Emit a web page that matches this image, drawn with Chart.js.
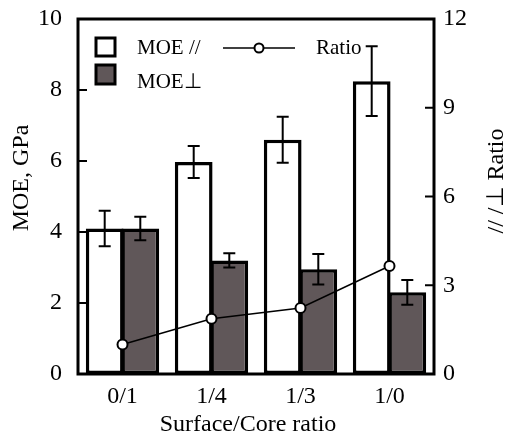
<!DOCTYPE html>
<html>
<head>
<meta charset="utf-8">
<script src="https://cdn.jsdelivr.net/npm/chart.js@4.4.0/dist/chart.umd.min.js"></script>
<style>
    html, body { margin: 0; padding: 0; background: #fff; }
</style>
</head>
<body>
<canvas id="moeChart" width="509" height="440"></canvas>
<script>
// surface/core layer ratio vs. MOE in both directions
const ratioLabels = ['0/1', '1/4', '1/3', '1/0'];
const moeParallel = [4.1, 5.97, 6.6, 8.25];
const moeParallelErr = [0.5, 0.45, 0.65, 0.98];
const moePerp = [4.1, 3.2, 2.95, 2.3];
const moePerpErr = [0.33, 0.2, 0.43, 0.35];
const anisoRatio = [1.0, 1.87, 2.23, 3.65];
const moeTicks = [0, 2, 4, 6, 8, 10];
const ratioTicks = [0, 3, 6, 9, 12];

const SERIF = '"Liberation Serif", "Times New Roman", serif';
const GREY = '#605759';

// error bars on top of each bar
const errorBars = {
    id: 'errorBars',
    afterDatasetDraw(chart, args) {
        const errs = args.index === 0 ? moeParallelErr : args.index === 1 ? moePerpErr : null;
        if (!errs) return;
        const vals = args.index === 0 ? moeParallel : moePerp;
        const ctx = chart.ctx;
        const y = chart.scales.y;
        ctx.save();
        ctx.strokeStyle = '#000';
        ctx.lineWidth = 2;
        args.meta.data.forEach((bar, i) => {
            const top = y.getPixelForValue(vals[i] + errs[i]);
            const bot = y.getPixelForValue(vals[i] - errs[i]);
            ctx.beginPath();
            ctx.moveTo(bar.x, top);
            ctx.lineTo(bar.x, bot);
            ctx.moveTo(bar.x - 6, top);
            ctx.lineTo(bar.x + 6, top);
            ctx.moveTo(bar.x - 6, bot);
            ctx.lineTo(bar.x + 6, bot);
            ctx.stroke();
        });
        ctx.restore();
    }
};

// box frame with inward tick marks
const frame = {
    id: 'frame',
    afterDatasetsDraw(chart) {
        const { ctx, chartArea: a, scales } = chart;
        ctx.save();
        ctx.strokeStyle = '#000';
        ctx.lineWidth = 3;
        ctx.strokeRect(a.left, a.top, a.right - a.left, a.bottom - a.top);
        ctx.lineWidth = 2;
        ctx.beginPath();
        moeTicks.forEach(v => {
            const py = scales.y.getPixelForValue(v);
            ctx.moveTo(a.left, py);
            ctx.lineTo(a.left + 9, py);
        });
        ratioTicks.forEach(v => {
            const py = scales.y1.getPixelForValue(v);
            ctx.moveTo(a.right, py);
            ctx.lineTo(a.right - 9, py);
        });
        ctx.stroke();
        ctx.restore();
    }
};

// axis titles and the legend inside the plot
const annotations = {
    id: 'annotations',
    afterDraw(chart) {
        const ctx = chart.ctx;
        ctx.save();
        ctx.fillStyle = '#000';
        ctx.font = '24px ' + SERIF;
        ctx.textBaseline = 'alphabetic';
        ctx.textAlign = 'center';
        ctx.fillText('Surface/Core ratio', 248, 431);

        ctx.save();
        ctx.translate(28, 178);
        ctx.rotate(-Math.PI / 2);
        ctx.fillText('MOE, GPa', 0, 0);
        ctx.restore();

        ctx.save();
        ctx.translate(503, 181);
        ctx.rotate(-Math.PI / 2);
        ctx.fillText('// /\u22a5 Ratio', 0, 0);
        ctx.restore();

        // legend
        const ds = chart.data.datasets;
        ctx.lineWidth = 3;
        ctx.strokeStyle = '#000';
        ctx.fillStyle = ds[0].backgroundColor;
        ctx.fillRect(96, 38, 19, 18);
        ctx.strokeRect(96, 38, 19, 18);
        ctx.fillStyle = ds[1].backgroundColor;
        ctx.fillRect(96, 65, 19, 19);
        ctx.strokeRect(96, 65, 19, 19);

        ctx.lineWidth = 1.5;
        ctx.beginPath();
        ctx.moveTo(223, 48);
        ctx.lineTo(295, 48);
        ctx.stroke();
        ctx.lineWidth = 2;
        ctx.fillStyle = '#fff';
        ctx.beginPath();
        ctx.arc(259, 48, 4.5, 0, Math.PI * 2);
        ctx.fill();
        ctx.stroke();

        ctx.fillStyle = '#000';
        ctx.font = '21px ' + SERIF;
        ctx.textAlign = 'left';
        ctx.fillText('MOE //', 137, 54);
        ctx.fillText('MOE\u22a5', 137, 88);
        ctx.fillText('Ratio', 316, 54);
        ctx.restore();
    }
};

// fixed axis sizes, no extra room for overhanging end labels
const fixSize = (w, h) => scale => {
    if (w !== null) scale.width = w;
    if (h !== null) scale.height = h;
    scale.paddingTop = 0;
    scale.paddingBottom = 0;
    scale.paddingLeft = 0;
    scale.paddingRight = 0;
};

const ctx = document.getElementById('moeChart').getContext('2d');
const chart = new Chart(ctx, {
    type: 'bar',
    data: {
        labels: ratioLabels,
        datasets: [
            {
                label: 'MOE //',
                data: moeParallel,
                backgroundColor: '#ffffff',
                borderColor: '#000',
                borderWidth: 3.5,
                borderSkipped: false,
                categoryPercentage: 0.8,
                barPercentage: 1.06,
                yAxisID: 'y',
                order: 1
            },
            {
                label: 'MOE\u22a5',
                data: moePerp,
                backgroundColor: GREY,
                borderColor: '#000',
                borderWidth: 3.5,
                borderSkipped: false,
                categoryPercentage: 0.8,
                barPercentage: 1.06,
                yAxisID: 'y',
                order: 2
            },
            {
                type: 'line',
                label: 'Ratio',
                data: anisoRatio,
                borderColor: '#000',
                borderWidth: 1.5,
                pointRadius: 5,
                pointBorderWidth: 2,
                pointBackgroundColor: '#fff',
                pointBorderColor: '#000',
                yAxisID: 'y1',
                order: 0
            }
        ]
    },
    options: {
        responsive: false,
        animation: false,
        layout: { padding: { top: 19, left: 0, right: 0, bottom: 0 } },
        plugins: {
            legend: { display: false },
            tooltip: { enabled: false }
        },
        scales: {
            x: {
                grid: { display: false, drawTicks: false },
                border: { display: false },
                ticks: { color: '#000', font: { family: SERIF, size: 24 }, padding: 8 },
                afterFit: fixSize(null, 66)
            },
            y: {
                position: 'left',
                min: moeTicks[0],
                max: moeTicks[moeTicks.length - 1],
                grid: { display: false, drawTicks: false },
                border: { display: false },
                ticks: { stepSize: moeTicks[1] - moeTicks[0], color: '#000', font: { family: SERIF, size: 24 }, padding: 16 },
                afterFit: fixSize(78, null)
            },
            y1: {
                position: 'right',
                min: ratioTicks[0],
                max: ratioTicks[ratioTicks.length - 1],
                grid: { display: false, drawTicks: false },
                border: { display: false },
                ticks: { stepSize: ratioTicks[1] - ratioTicks[0], color: '#000', font: { family: SERIF, size: 24 }, padding: 9 },
                afterFit: fixSize(75, null)
            }
        }
    },
    plugins: [errorBars, frame, annotations]
});
</script>
</body>
</html>
